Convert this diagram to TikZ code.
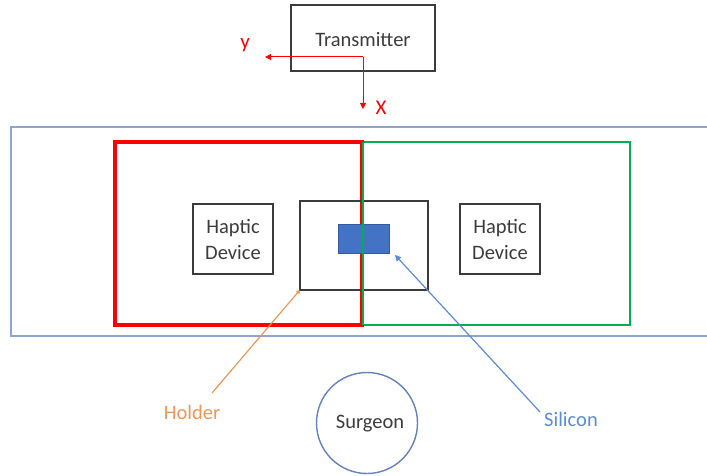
\documentclass[tikz,border=0pt]{standalone}
\usepackage{fontspec}
\setmainfont{Carlito}
\usetikzlibrary{arrows.meta}
\definecolor{boxgray}{RGB}{60,60,60}
\definecolor{outerblue}{RGB}{143,165,205}
\definecolor{circblue}{RGB}{100,130,190}
\definecolor{silblue}{RGB}{90,140,215}
\definecolor{silfill}{RGB}{68,114,196}
\definecolor{holderorange}{RGB}{240,150,90}
\definecolor{redc}{RGB}{255,0,0}
\definecolor{greenc}{RGB}{0,176,80}
\begin{document}
\begin{tikzpicture}[x=1pt,y=-1pt,
  every node/.style={font=\fontsize{20.5}{26}\selectfont, text=boxgray},
  graybox/.style={draw=boxgray, line width=1.2pt, inner sep=0pt},
  axisline/.style={draw=redc, line width=1pt, -{Triangle[length=6pt,width=6pt]}}]
\useasboundingbox (0,0) rectangle (707,476);
% outer blue region
\draw[outerblue, line width=1.8pt] (707,127) -- (11,127) -- (11,336) -- (707,336);
% green and red frames
\node[draw=greenc, line width=2.2pt, minimum width=268pt, minimum height=183pt, inner sep=0pt] (green) at (496,233.5) {};
\node[draw=redc, line width=4.5pt, minimum width=247pt, minimum height=183pt, inner sep=0pt] (red) at (238.5,233.5) {};
% transmitter
\node[graybox, minimum width=144pt, minimum height=66pt] (tx) at (363,38) {};
\node at (363,40) {Transmitter};
% axes
\coordinate (o) at (363,57);
\coordinate (ye) at (265,57);
\coordinate (xe) at (363,109);
\draw[axisline] (o) -- (ye);
\draw[axisline] (o) -- (xe);
\node[text=redc, font=\fontsize{21}{24}\selectfont] (ylab) at (245,45) {y};
\node[text=redc, font=\fontsize{21}{24}\selectfont] (xlab) at (381,108) {X};
% haptic devices
\node[graybox, minimum width=80pt, minimum height=70pt, align=center] (hl) at (233,239) {Haptic\\Device};
\node[graybox, minimum width=80pt, minimum height=70pt, align=center] (hr) at (500,239) {Haptic\\Device};
% holder
\node[graybox, minimum width=128pt, minimum height=89pt] (holder) at (364,245.5) {};
\draw[redc, line width=1.2pt] (362,142) -- (362,325);
% silicon piece
\node[fill=silfill, draw=silfill!80!black, line width=0.5pt, minimum width=51pt, minimum height=29pt, inner sep=0pt] (sil) at (363.5,238.5) {};
\draw[greenc, line width=1.5pt] (363,142) -- (363,325);
% labels
\node[text=holderorange] (holdlab) at (192,412) {Holder};
\node[text=silblue] (sillab) at (571,419) {Silicon};
\coordinate (holdstart) at (212,393);
\coordinate (silstart) at (540,412);
\draw[holderorange, line width=1.2pt, -{Circle[length=4pt,width=4pt]}] (holdstart) -- (holder.south west);
\draw[silblue, line width=1.2pt, -{Triangle[length=6pt,width=6pt]}] (silstart) -- (395,255);
% surgeon
\node[draw=circblue, line width=1.4pt, circle, minimum size=101pt, inner sep=0pt] (surgeon) at (367,423) {};
\node at (370,424) {Surgeon};
\end{tikzpicture}
\end{document}
